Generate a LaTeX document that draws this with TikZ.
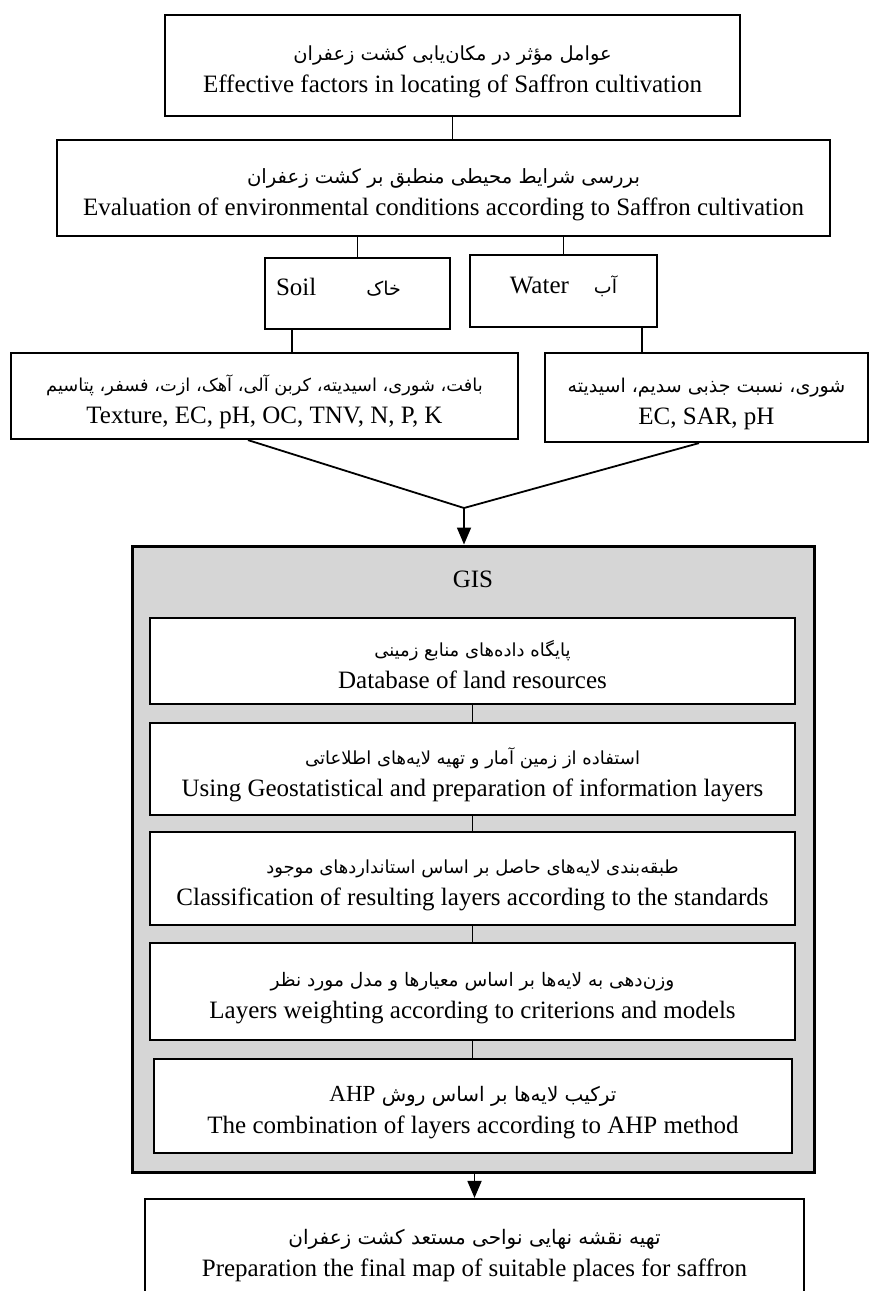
\documentclass[tikz,border=0pt]{standalone}
\usepackage{fontspec}
\setmainfont{Liberation Serif}
\newfontfamily\persianfont[Script=Arabic]{DejaVu Sans}
\TeXXeTstate=1
\usetikzlibrary{arrows.meta}
\definecolor{gisgray}{HTML}{D6D6D6}
\newcommand\fatext[2][19]{{\persianfont\fontsize{#1}{22}\selectfont\beginR #2\endR}}
\newcommand\latinahp{\beginL{\rmfamily\fontsize{23}{22}\selectfont AHP}\endL}
% two-line box text: Persian above, English below, fixed baselines
\newcommand\twoline[3][19]{\rule{0pt}{26pt}\smash{\fatext[#1]{#2}}\\\rule[-4pt]{0pt}{20pt}\smash{#3}}
\newcommand\oneline[1]{\rule[-10pt]{0pt}{24pt}\smash{#1}}
\begin{document}
\begin{tikzpicture}[x=1pt,y=-1pt,
  box/.style={draw=black, line width=2.2pt, fill=white, align=center, inner sep=0pt,
              font=\fontsize{25}{32}\selectfont},
  gisbox/.style={draw=black, line width=3pt, fill=gisgray, inner sep=0pt},
  conn/.style={line width=1.8pt},
  arr/.style={line width=1.8pt, -{Triangle[width=14pt,length=17pt]}}]
\useasboundingbox (0,0) rectangle (873,1291);

% top boxes
\node[box, minimum width=575pt, minimum height=101pt] (b1) at (452.5,65.5)
  {\twoline[19.4]{عوامل مؤثر در مکان^^^^200cیابی کشت زعفران}{Effective factors in locating of Saffron cultivation}};
\node[box, minimum width=773pt, minimum height=96pt] (b2) at (443.5,188)
  {\twoline[19.6]{بررسی شرایط محیطی منطبق بر کشت زعفران}{Evaluation of environmental conditions according to Saffron cultivation}};
\node[box, minimum width=185pt, minimum height=71pt] (soil) at (357.5,293.5)
  {\oneline{Soil\kern50pt\fatext{خاک}\kern38pt}};
\node[box, minimum width=187pt, minimum height=72pt] (water) at (563.5,291)
  {\oneline{Water\kern25pt\fatext{آب}}};
\node[box, minimum width=507pt, minimum height=86pt] (soilp) at (264.5,396)
  {\twoline[17.8]{بافت، شوری، اسیدیته، کربن آلی، آهک، ازت، فسفر، پتاسیم}{Texture, EC, pH, OC, TNV, N, P, K}};
\node[box, minimum width=323pt, minimum height=89pt] (waterp) at (706.5,397.5)
  {\twoline[19]{شوری، نسبت جذبی سدیم، اسیدیته}{EC, SAR, pH}};

\coordinate (merge) at (464,508);

% GIS container
\node[gisbox, minimum width=682pt, minimum height=626pt] (gis) at (473,859) {};
\node[font=\fontsize{25}{30}\selectfont, inner sep=0pt] (gislabel) at (473,579) {GIS};
\node[box, minimum width=645pt, minimum height=86pt] (db) at (472.5,661)
  {\twoline[18]{پایگاه داده^^^^200cهای منابع زمینی}{Database of land resources}};
\node[box, minimum width=645pt, minimum height=92pt] (geo) at (472.5,769)
  {\twoline[18]{استفاده از زمین آمار و تهیه لایه^^^^200cهای اطلاعاتی}{Using Geostatistical and preparation of information layers}};
\node[box, minimum width=645pt, minimum height=93pt] (cls) at (472.5,878.5)
  {\twoline[18]{طبقه^^^^200cبندی لایه^^^^200cهای حاصل بر اساس استانداردهای موجود}{Classification of resulting layers according to the standards}};
\node[box, minimum width=645pt, minimum height=97pt] (wt) at (472.5,991.5)
  {\twoline[18.6]{وزن^^^^200cدهی به لایه^^^^200cها بر اساس معیارها و مدل مورد نظر}{Layers weighting according to criterions and models}};
\node[box, minimum width=638pt, minimum height=94pt] (ahp) at (473,1106)
  {\twoline[20]{ترکیب لایه^^^^200cها بر اساس روش \latinahp}{The combination of layers according to AHP method}};

\node[box, minimum width=659pt, minimum height=101pt] (final) at (474.5,1249.5)
  {\twoline[20]{تهیه نقشه نهایی نواحی مستعد کشت زعفران}{Preparation the final map of suitable places for saffron}};

% connectors
\draw[conn] (b1.south) -- (b1.south |- b2.north);
\draw[conn] (soil.north |- b2.south) -- (soil.north);
\draw[conn] (water.north |- b2.south) -- (water.north);
\coordinate (sd) at ([xshift=-65.5pt]soil.south);
\coordinate (wd) at ([xshift=78.5pt]water.south);
\draw[conn] (sd) -- (sd |- soilp.north);
\draw[conn] (wd) -- (wd |- waterp.north);
\coordinate (sp) at ([xshift=-16.5pt]soilp.south);
\coordinate (wp) at ([xshift=-7.5pt]waterp.south);
\draw[conn] (sp) -- (merge) -- (wp);
\draw[arr] (merge) -- (merge |- gis.north);
\draw[conn] (db.south) -- (db.south |- geo.north);
\draw[conn] (geo.south) -- (geo.south |- cls.north);
\draw[conn] (cls.south) -- (cls.south |- wt.north);
\draw[conn] (wt.south) -- (wt.south |- ahp.north);
\draw[arr] (final.north |- gis.south) -- (final.north);
\end{tikzpicture}
\end{document}
